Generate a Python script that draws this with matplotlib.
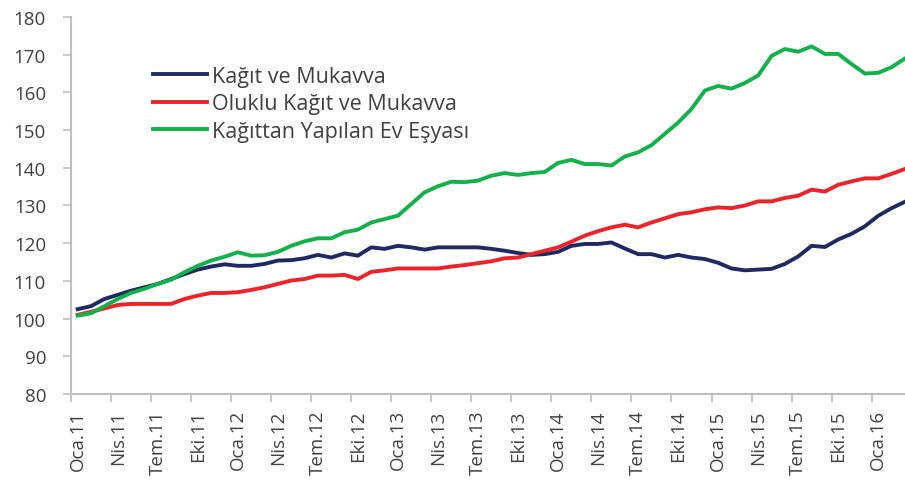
import numpy as np
import matplotlib
matplotlib.use('Agg')
import matplotlib.pyplot as plt
from matplotlib.ticker import FixedLocator

# monthly index values, Oca.11 .. Mar.16
kagit = [102.5, 103.3, 105.2, 106.3, 107.4, 108.3, 109.2, 110.5, 111.8, 113.0,
         113.8, 114.4, 114.0, 114.0, 114.5, 115.4, 115.5, 116.0, 116.9, 116.2,
         117.3, 116.7, 118.9, 118.5, 119.3, 118.9, 118.3, 118.9, 118.9, 118.9,
         118.9, 118.5, 118.0, 117.4, 116.9, 117.1, 117.7, 119.3, 119.8, 119.8,
         120.2, 118.6, 117.1, 117.1, 116.2, 116.9, 116.2, 115.8, 114.8, 113.3,
         112.8, 113.0, 113.2, 114.5, 116.5, 119.3, 119.0, 121.0, 122.5, 124.5,
         127.3, 129.3, 131.0]
oluklu = [101.0, 101.8, 102.7, 103.6, 103.9, 103.9, 103.9, 103.9, 105.2, 106.1,
          106.8, 106.8, 107.0, 107.6, 108.3, 109.2, 110.1, 110.5, 111.4, 111.4,
          111.6, 110.5, 112.4, 112.8, 113.3, 113.3, 113.3, 113.3, 113.8, 114.2,
          114.7, 115.2, 116.0, 116.2, 117.1, 118.0, 118.9, 120.4, 122.0, 123.2,
          124.2, 124.9, 124.2, 125.5, 126.6, 127.7, 128.2, 129.0, 129.5, 129.3,
          130.0, 131.1, 131.1, 132.0, 132.6, 134.2, 133.7, 135.5, 136.4, 137.2,
          137.2, 138.4, 139.7]
ev_esyasi = [100.8, 101.4, 103.3, 105.2, 106.8, 107.9, 109.2, 110.3, 112.3, 114.0,
             115.4, 116.4, 117.6, 116.7, 116.8, 117.7, 119.3, 120.5, 121.3, 121.3,
             122.9, 123.6, 125.5, 126.4, 127.3, 130.4, 133.5, 135.1, 136.3, 136.2,
             136.6, 137.9, 138.6, 138.1, 138.6, 138.9, 141.3, 142.1, 141.0, 141.0,
             140.6, 143.0, 144.1, 146.0, 149.0, 152.0, 155.6, 160.5, 161.7, 161.0,
             162.5, 164.5, 169.7, 171.5, 170.8, 172.2, 170.2, 170.2, 167.5, 165.0,
             165.2, 166.7, 169.0]

labels = ['Oca.11', 'Nis.11', 'Tem.11', 'Eki.11', 'Oca.12', 'Nis.12', 'Tem.12', 'Eki.12',
          'Oca.13', 'Nis.13', 'Tem.13', 'Eki.13', 'Oca.14', 'Nis.14', 'Tem.14', 'Eki.14',
          'Oca.15', 'Nis.15', 'Tem.15', 'Eki.15', 'Oca.16']
names = ['Kağıt ve Mukavva', 'Oluklu Kağıt ve Mukavva', 'Kağıttan Yapılan Ev Eşyası']
colors = ['#1f2a63', '#ee2229', '#12b24b']

plt.rcParams['font.family'] = ['Open Sans', 'DejaVu Sans']
txt = '#404040'
grey = '#bfbfbf'

fig = plt.figure(figsize=(9.05, 4.81), dpi=100)
ax = fig.add_axes([71/905, 1-395/481, 1-71/905, 377/481])

x = np.arange(len(kagit))
for s, n, c in zip([kagit, oluklu, ev_esyasi], names, colors):
    ax.plot(x, s, color=c, lw=2.8, label=n, solid_joinstyle='round')

ax.set_ylim(80, 180)
ax.set_yticks(range(80, 181, 10))
ax.set_xlim(-0.5, 62)

ax.xaxis.set_major_locator(FixedLocator(np.arange(0, 61, 3)))
ax.set_xticklabels(labels, rotation=90)
ax.xaxis.set_minor_locator(FixedLocator(np.arange(-0.5, 62, 3)))
ax.tick_params(axis='x', which='major', length=0, pad=11)
ax.tick_params(axis='x', which='minor', length=5.5, width=1.2, color=grey, direction='out')
ax.tick_params(axis='y', length=6, width=1.2, color=grey, pad=12)
ax.tick_params(labelsize=13.5, labelcolor=txt)

for sp in ['top', 'right']:
    ax.spines[sp].set_visible(False)
for sp in ['left', 'bottom']:
    ax.spines[sp].set_color(grey)
    ax.spines[sp].set_linewidth(1.5)

ax.legend(loc='upper left', bbox_to_anchor=(0.098, 0.87), frameon=False,
          fontsize=15.5, labelcolor=txt, handlelength=2.5, handletextpad=0.24,
          labelspacing=0.3, borderpad=0, borderaxespad=0)

fig.savefig('out.png', dpi=100)
